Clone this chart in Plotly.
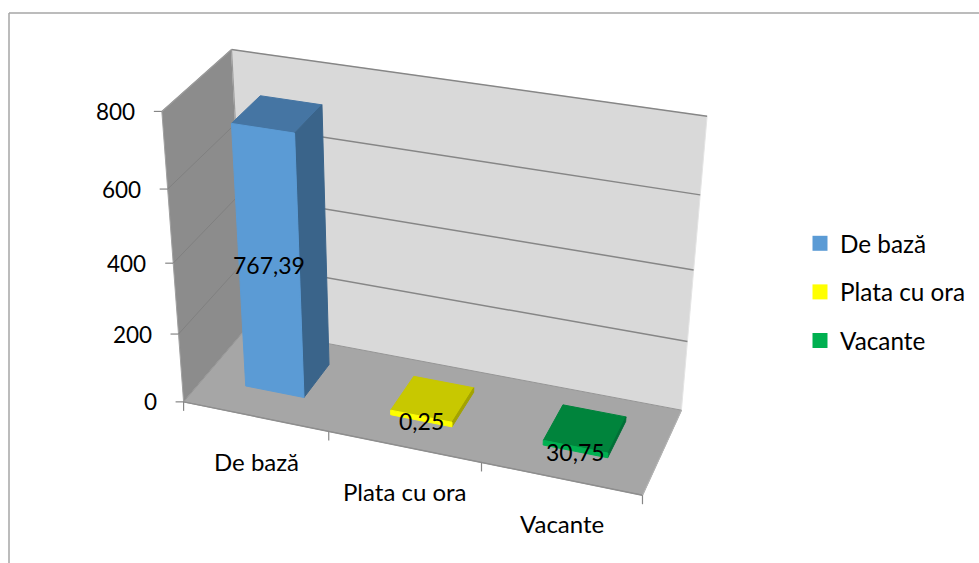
import numpy as np
import plotly.graph_objects as go

categories = ["De bază", "Plata cu ora", "Vacante"]
values = [767.39, 0.25, 30.75]
value_labels = ["767,39", "0,25", "30,75"]
tick_values = [0, 200, 400, 600, 800]
z_max = 800
front_colors = ["#5B9BD5", "#FFFF00", "#00B050"]
top_colors = ["#4575A3", "#C8C800", "#00843C"]
side_colors = ["#3A648A", "#A3A300", "#006F36"]

# camera: (u, v, w) box coordinates -> page pixels, solved from the plot box's visible landmarks
box_uvw = [(0,0,0),(1,0,0),(1,1,0),(0,1,0),(0,1,1),(1,1,1),(0,0,1),
           (0,0,.25),(0,0,.5),(0,0,.75),(1,1,.25),(1,1,.5),(1,1,.75),(1/3,0,0),(2/3,0,0),
           (0,0,0),(0,0,0),(0,1,0),(0,1,1),(0,0,1)]
box_px = [(186,401),(642,498),(682,407),(243,330),(235,49),(706,117),(160,112),
          (178,333),(172,263),(165,189),(688,342),(694,269),(700,195),(330,431),(481,463),
          (186,401),(186,401),(243,330),(235,49),(160,112)]
A = []
for (u,v,w),(x,y) in zip(box_uvw, box_px):
    x,y = x/500, y/500
    A.append([u,v,w,1,0,0,0,0,-x*u,-x*v,-x*w,-x])
    A.append([0,0,0,0,u,v,w,1,-y*u,-y*v,-y*w,-y])
P = np.linalg.svd(np.array(A))[2][-1].reshape(3,4)
def project(u,v,w):
    h = P @ np.array([u,v,w,1.0])
    return float(h[0]/h[2]*500), float(h[1]/h[2]*500)

fig = go.Figure()
def poly(corners, fill, line=None, width=1):
    pts = [project(*c) for c in corners] + [project(*corners[0])]
    fig.add_trace(go.Scatter(x=[p[0] for p in pts], y=[p[1] for p in pts], mode="lines", fill="toself",
        fillcolor=fill, line=dict(color=line or fill, width=width), hoverinfo="skip", showlegend=False))
def seg(a, b, color, width=1.2):
    fig.add_trace(go.Scatter(x=[a[0],b[0]], y=[a[1],b[1]], mode="lines", line=dict(color=color,width=width),
        hoverinfo="skip", showlegend=False))

# walls and floor
poly([(0,0,0),(0,1,0),(0,1,1),(0,0,1)], "#8C8C8C", "#A0A0A0")
poly([(0,1,0),(1,1,0),(1,1,1),(0,1,1)], "#D9D9D9", "#E4E4E4")
poly([(0,0,0),(1,0,0),(1,1,0),(0,1,0)], "#A6A6A6", "#969696")
seg(project(0,1,1), project(1,1,1), "#868686", 1.5)
seg(project(0,1,1), project(0,1,0), "#9A9A9A")
seg(project(0,1,1), project(0,0,1), "#9A9A9A")
seg(project(0,0,0), project(1,0,0), "#8E8E8E", 1.5)
seg(project(1,0,0), project(1,1,0), "#B4B4B4")

# gridlines + value ticks
annos = []
for t in tick_values:
    w = t / z_max
    if 0 < w < 1:
        seg(project(0,0,w), project(0,1,w), "#808080", 1)
        seg(project(0,1,w), project(1,1,w), "#868686", 1.5)
    x,y = project(0,0,w)
    seg((x-8,y), (x,y), "#868686", 1.2)
    annos.append(dict(x=x-25, y=y, text=str(t), xanchor="right", yanchor="middle", showarrow=False, font=dict(size=22.5)))

# category ticks + labels
n = len(categories)
for i in range(n+1):
    x,y = project(i/n,0,0)
    seg((x,y), (x,y+9), "#868686", 1.2)
for i,c in enumerate(categories):
    x,y = project((i+.5)/n,0,0)
    annos.append(dict(x=x+1, y=y+45, text=c, xanchor="center", yanchor="middle", showarrow=False))

# bars
half_w = 0.068
v0, v1 = 0.315, 0.75
base_offset = 33      # the source chart draws its bars a little short of their labelled values
min_h = 0.017         # thinnest visible bar
for i,val in enumerate(values):
    c = (i+.5)/n
    u0,u1 = c-half_w, c+half_w
    h = max((val-base_offset)/z_max, min_h)
    poly([(u0,v0,h),(u1,v0,h),(u1,v1,h),(u0,v1,h)], top_colors[i])
    poly([(u1,v0,0),(u1,v1,0),(u1,v1,h),(u1,v0,h)], side_colors[i])
    poly([(u0,v0,0),(u1,v0,0),(u1,v0,h),(u0,v0,h)], front_colors[i])
    x,y = project(c,v0,h/2)
    annos.append(dict(x=x, y=y+(0 if i==0 else 3), text=value_labels[i], xanchor="center", yanchor="middle", showarrow=False, font=dict(size=23)))

# legend
for i,c in enumerate(categories):
    fig.add_trace(go.Scatter(x=[None], y=[None], mode="markers", name=c, legendgroup=c,
        marker=dict(symbol="square", size=15, color=front_colors[i])))

fig.update_layout(width=979, height=563, margin=dict(l=0,r=0,t=0,b=0), plot_bgcolor="white", paper_bgcolor="white",
    font=dict(family="Lato", size=24, color="#000000"),
    xaxis=dict(range=[0,979], visible=False, fixedrange=True), yaxis=dict(range=[563,0], visible=False, fixedrange=True),
    annotations=annos,
    legend=dict(x=800/979, y=1-221/563, xanchor="left", yanchor="top", tracegroupgap=14, font=dict(size=24.3), bgcolor="rgba(0,0,0,0)"),
    shapes=[dict(type="line", x0=9,y0=563,x1=9,y1=13, line=dict(color="#A6A6A6",width=1.5)),
            dict(type="line", x0=9,y0=13,x1=979,y1=13, line=dict(color="#A6A6A6",width=1.5))])
fig.write_html("out.html", config={"displayModeBar": False}, post_script="document.body.style.margin='0';")
